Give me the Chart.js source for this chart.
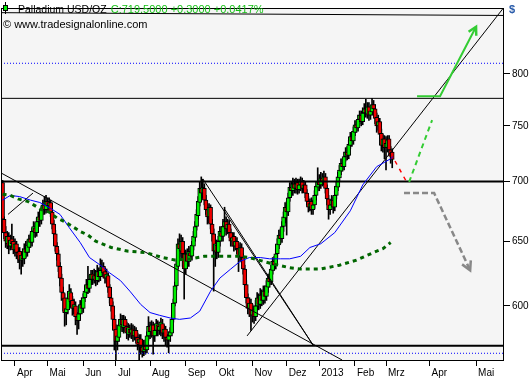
<!DOCTYPE html>
<html>
<head>
<meta charset="utf-8">
<title>Palladium USD/OZ</title>
<script src="https://cdn.jsdelivr.net/npm/chart.js@4.4.0/dist/chart.umd.min.js"></script>
<style>
  html, body { margin: 0; padding: 0; background: #fff; }
  #wrap { width: 532px; height: 380px; }
</style>
</head>
<body>
<div id="wrap"><canvas id="chart" width="532" height="380"></canvas></div>
<script>
// ===== Kursdaten (Tageskerzen, Index 0 = 2. April 2012) =====
const firstBar = -8;
const opens = [
  699, 668, 657, 648, 654, 646, 652, 650,
  643, 648, 641, 642, 635, 639, 636, 644, 641, 645,
  652, 649, 658, 661, 657, 666, 670, 667, 676, 680,
  676, 683, 679, 682, 674, 664, 656, 646, 640, 630,
  621, 610, 606, 595, 597, 605, 610, 604, 598, 600,
  592, 589, 594, 601, 598, 606, 610, 616, 613, 620,
  624, 620, 623, 619, 626, 622, 627, 630, 626, 621,
  623, 614, 606, 600, 590, 583, 574, 577, 585, 590,
  584, 590, 585, 579, 583, 580, 583, 578, 582, 577,
  573, 576, 570, 567, 571, 568, 578, 585, 581, 586,
  578, 582, 586, 582, 582, 587, 580, 583, 577, 575,
  578, 580, 590, 602, 615, 630, 648, 642, 650, 640,
  628, 640, 634, 641, 638, 646, 653, 662, 671, 682,
  694, 690, 694, 684, 676, 670, 678, 664, 656, 642,
  647, 641, 650, 657, 654, 662, 666, 660, 664, 657,
  650, 654, 646, 650, 644, 638, 645, 637, 628, 616,
  606, 598, 602, 593, 597, 592, 600, 606, 601, 608,
  604, 611, 607, 614, 621, 618, 627, 634, 631, 640,
  647, 655, 652, 662, 669, 678, 674, 686, 695, 692,
  698, 694, 699, 693, 697, 700, 694, 697, 690, 683,
  678, 683, 676, 680, 688, 695, 700, 697, 703, 700,
  704, 694, 685, 676, 680, 684, 678, 688, 695, 703,
  709, 716, 713, 722, 726, 723, 732, 740, 736, 744,
  751, 748, 756, 760, 754, 762, 766, 761, 768, 760,
  763, 770, 766, 758, 750, 754, 743, 732, 738, 730,
  730, 738, 728, 726
];
const highs = [
  701, 670, 662, 658, 657, 655, 664, 654,
  652, 650, 645, 645, 641, 644, 648, 650, 651, 655,
  656, 661, 666, 665, 669, 674, 675, 679, 684, 687,
  688, 686, 686, 684, 676, 667, 659, 649, 643, 633,
  624, 614, 609, 603, 610, 616, 613, 607, 605, 603,
  595, 597, 604, 606, 609, 615, 620, 630, 623, 627,
  627, 628, 627, 631, 629, 636, 635, 633, 629, 628,
  625, 616, 609, 603, 593, 586, 582, 590, 594, 593,
  593, 592, 588, 587, 586, 587, 586, 585, 584, 580,
  579, 579, 573, 575, 575, 581, 592, 588, 589, 588,
  586, 590, 589, 588, 591, 590, 586, 585, 579, 581,
  584, 593, 605, 618, 636, 652, 656, 655, 653, 642,
  643, 644, 646, 645, 650, 658, 666, 676, 687, 700,
  704, 702, 698, 688, 680, 681, 680, 668, 660, 652,
  651, 654, 662, 662, 668, 678, 670, 668, 667, 660,
  657, 657, 654, 653, 647, 649, 648, 640, 631, 619,
  609, 606, 605, 601, 600, 604, 610, 609, 613, 612,
  615, 615, 619, 624, 625, 631, 637, 638, 644, 652,
  659, 660, 666, 674, 682, 683, 690, 699, 700, 703,
  702, 703, 702, 702, 704, 703, 701, 700, 693, 687,
  685, 686, 684, 692, 700, 712, 706, 708, 707, 709,
  707, 697, 688, 684, 688, 687, 692, 700, 708, 714,
  720, 720, 726, 730, 731, 737, 744, 744, 749, 755,
  755, 760, 764, 764, 767, 771, 775, 772, 772, 768,
  776, 774, 770, 762, 760, 757, 747, 742, 741, 740,
  741, 741, 731, 729
];
const lows = [
  664, 652, 645, 644, 640, 643, 645, 640,
  638, 636, 633, 628, 624, 630, 632, 637, 638, 641,
  645, 646, 654, 653, 654, 662, 662, 664, 672, 672,
  673, 674, 675, 670, 660, 652, 642, 635, 626, 615,
  604, 596, 585, 586, 594, 601, 599, 593, 594, 586,
  579, 583, 590, 594, 595, 603, 607, 609, 610, 616,
  616, 617, 615, 616, 618, 619, 622, 621, 617, 618,
  610, 602, 596, 585, 568, 561, 568, 574, 582, 581,
  580, 581, 576, 575, 577, 576, 574, 575, 573, 568,
  561, 565, 563, 564, 565, 566, 575, 576, 577, 565,
  574, 578, 578, 579, 578, 576, 574, 571, 570, 566,
  574, 578, 588, 600, 612, 628, 638, 636, 630, 605,
  624, 630, 630, 634, 635, 643, 650, 659, 668, 679,
  685, 686, 680, 672, 664, 665, 660, 650, 611, 630,
  636, 637, 646, 650, 650, 658, 655, 656, 653, 646,
  646, 642, 643, 640, 626, 634, 633, 624, 612, 602,
  594, 592, 582, 588, 587, 589, 597, 597, 598, 600,
  601, 602, 604, 610, 614, 616, 624, 627, 628, 637,
  644, 648, 649, 658, 665, 655, 671, 683, 687, 688,
  690, 690, 689, 690, 692, 690, 691, 686, 680, 674,
  675, 672, 672, 677, 684, 692, 692, 694, 696, 697,
  690, 680, 668, 672, 676, 673, 675, 685, 692, 700,
  706, 709, 710, 718, 719, 720, 729, 731, 733, 741,
  744, 745, 752, 750, 751, 758, 758, 757, 755, 756,
  760, 761, 752, 744, 746, 738, 727, 726, 720, 710,
  726, 723, 716, 712
];
const closes = [
  668, 657, 650, 654, 646, 651, 648, 643,
  648, 641, 638, 635, 639, 636, 644, 641, 647, 652,
  649, 658, 662, 657, 666, 670, 667, 676, 680, 676,
  683, 679, 682, 674, 664, 656, 646, 640, 630, 621,
  610, 605, 595, 598, 606, 611, 603, 598, 601, 592,
  589, 594, 601, 598, 606, 611, 616, 613, 620, 624,
  620, 623, 619, 626, 622, 627, 630, 625, 621, 624,
  614, 606, 600, 590, 582, 574, 578, 586, 590, 586,
  590, 585, 580, 584, 580, 583, 578, 582, 577, 572,
  576, 570, 567, 571, 568, 578, 585, 581, 586, 578,
  582, 587, 582, 585, 588, 580, 583, 577, 575, 578,
  581, 590, 602, 615, 632, 648, 644, 650, 640, 628,
  640, 634, 642, 638, 647, 654, 662, 672, 683, 694,
  690, 695, 684, 676, 670, 678, 664, 656, 642, 648,
  641, 650, 658, 654, 662, 666, 660, 664, 657, 650,
  653, 646, 650, 644, 638, 645, 637, 628, 616, 606,
  598, 602, 593, 597, 592, 600, 606, 601, 608, 604,
  611, 607, 615, 621, 618, 628, 634, 631, 640, 648,
  655, 652, 662, 670, 678, 674, 686, 695, 692, 698,
  694, 698, 693, 697, 700, 694, 697, 690, 683, 678,
  681, 676, 680, 688, 696, 700, 697, 703, 700, 704,
  694, 685, 676, 680, 684, 678, 688, 696, 704, 710,
  716, 713, 722, 726, 723, 733, 740, 736, 745, 751,
  748, 756, 760, 754, 762, 766, 762, 768, 760, 764,
  770, 766, 757, 750, 754, 742, 732, 738, 730, 734,
  737, 728, 722, 719.5
];

// Gleitende Durchschnitte
const ma50Idx = [-8, -3, 3, 10, 16, 23, 29, 35, 42, 48, 55, 61, 68, 74, 81, 87, 93, 100, 106, 113, 119, 126, 132, 139, 145, 151, 158, 164, 171, 177, 184, 190, 197, 206, 216, 224, 233, 242, 243.5];
const ma50 = [684, 688, 687, 684, 682, 677, 672, 661, 649, 637, 631, 625, 619, 611, 601, 595, 593, 591, 590, 591, 596, 611, 621, 628, 634, 637, 637, 636, 636, 636, 638, 645, 648, 657, 675, 697, 713, 720, 722];
const ma200Idx = [-8, -3, 2, 8, 12, 17, 22, 27, 32, 37, 42, 47, 52, 62, 73, 84, 95, 103, 113, 122, 132, 145, 151, 160, 166, 177, 184, 197, 209, 220, 231, 237, 242];
const ma200 = [689, 688, 685, 683, 680, 676, 674, 669, 666, 662, 658, 655, 650, 645, 642, 641, 637, 635, 636, 638, 638, 638, 637, 634, 632, 629, 628, 628, 631, 635, 641, 644, 649];

// Achsen
const monthTicks = [0, 21, 44, 65, 87, 110, 130, 153, 175, 196, 219, 239, 267, 297];
const monthLabels = ['Apr', 'Mai', 'Jun', 'Jul', 'Aug', 'Sep', 'Okt', 'Nov', 'Dez', '2013', 'Feb', 'Mrz', 'Apr', 'Mai'];
const priceTicks = [600, 650, 700, 750, 800];
const xMin = -9, xMax = 315;
const yMin = 561, yMax = 868;

// Zeichnungen: Trendlinien [index, kurs]
const trendTop = [[-9.7, 863], [315.1, 860]];
const trendDown = [[-9.7, 708], [210.7, 561]];
const trendSepA = [[121.1, 702], [192, 571.5]];
const trendSepB = [[135.3, 676], [192, 571.5]];
const trendUp = [[149.5, 578], [315.1, 869]];
const trendSmall = [[-4.5, 672], [11.6, 690]];
const levelLines = [776, 700, 571];
const dottedLevels = [810.5, 565.7];

// Prognose-Pfade
const redPath = [[244.8, 718], [251.9, 700.5]];
const greenDashPath = [[253.9, 699.6], [268.7, 755.4]];
const greenArrowPath = [[259, 778], [273.8, 778], [297, 848]];
const grayArrowPath = [[250.6, 690], [270, 690], [293.2, 627]];

// Legende
const lastClose = 719.5, netChange = 0.3, pctChange = 0.0417;

// ===== Datasets =====
const barIdx = opens.map((_, k) => firstBar + k);
const wickData = barIdx.map((x, k) => ({ x, y: [lows[k], highs[k]] }));
const bodyData = barIdx.map((x, k) => ({ x, y: [opens[k], closes[k]] }));

function lineSet(points, color, width, dash, order) {
  return {
    type: 'line',
    data: points.map(p => ({ x: p[0], y: p[1] })),
    borderColor: color,
    borderWidth: width,
    borderDash: dash || [],
    borderCapStyle: 'butt',
    pointRadius: 0,
    fill: false,
    tension: 0,
    order: order
  };
}
const fullWidth = v => [[xMin, v], [xMax, v]];

const datasets = [
  {
    type: 'bar', data: wickData, backgroundColor: '#000', borderWidth: 0,
    barThickness: 1, grouped: false, order: 30
  },
  {
    type: 'bar', data: bodyData,
    backgroundColor: c => closes[c.dataIndex] >= opens[c.dataIndex] ? '#00f000' : '#f00000',
    borderColor: '#000', borderWidth: 1, borderSkipped: false,
    barThickness: 4, grouped: false, order: 29
  },
  lineSet(ma50Idx.map((x, k) => [x, ma50[k]]), '#0000ff', 1, null, 5),
  lineSet(ma200Idx.map((x, k) => [x, ma200[k]]), '#006600', 3, [4, 4], 4),
  lineSet(fullWidth(levelLines[0]), '#000', 1, null, 6),
  lineSet(fullWidth(levelLines[1]), '#000', 2, null, 6),
  lineSet(fullWidth(levelLines[2]), '#000', 2, null, 6),
  lineSet(fullWidth(dottedLevels[0]), '#0000ff', 1, [1, 2], 6),
  lineSet(fullWidth(dottedLevels[1]), '#0000ff', 1, [1, 2], 6),
  lineSet(trendTop, '#000', 1, null, 6),
  lineSet(trendDown, '#000', 1, null, 6),
  lineSet(trendSepA, '#000', 1, null, 6),
  lineSet(trendSepB, '#000', 1, null, 6),
  lineSet(trendUp, '#000', 1, null, 6),
  lineSet(trendSmall, '#000', 1, null, 6),
  lineSet(redPath, '#ff0000', 1.5, [4, 5], 3),
  lineSet(greenDashPath, '#33cc33', 2, [5, 4], 3),
  lineSet(greenArrowPath, '#33cc33', 2, null, 3),
  lineSet(grayArrowPath, '#888888', 2.5, [6, 3], 3)
];

// ===== Rahmen, Pfeilspitzen, Legende =====
function arrowHead(ctx, chart, path, color, size) {
  const sx = chart.scales.x, sy = chart.scales.y;
  const a = path[path.length - 2], b = path[path.length - 1];
  const x1 = sx.getPixelForValue(a[0]), y1 = sy.getPixelForValue(a[1]);
  const x2 = sx.getPixelForValue(b[0]), y2 = sy.getPixelForValue(b[1]);
  const ang = Math.atan2(y2 - y1, x2 - x1);
  ctx.save();
  ctx.strokeStyle = color;
  ctx.lineWidth = 2.5;
  ctx.beginPath();
  ctx.moveTo(x2 - size * Math.cos(ang - 0.5), y2 - size * Math.sin(ang - 0.5));
  ctx.lineTo(x2, y2);
  ctx.lineTo(x2 - size * Math.cos(ang + 0.5), y2 - size * Math.sin(ang + 0.5));
  ctx.stroke();
  ctx.restore();
}

const decor = {
  id: 'decor',
  beforeDraw(chart) {
    const { ctx, chartArea: a } = chart;
    ctx.save();
    ctx.fillStyle = '#fff';
    ctx.fillRect(0, 0, chart.width, chart.height);
    ctx.fillStyle = '#f5f5f5';
    ctx.fillRect(a.left, a.top, a.right - a.left, a.bottom - a.top);
    ctx.restore();
  },
  afterDatasetsDraw(chart) {
    const ctx = chart.ctx;
    arrowHead(ctx, chart, greenArrowPath, '#33cc33', 9);
    arrowHead(ctx, chart, grayArrowPath, '#888888', 10);
  },
  afterDraw(chart) {
    const { ctx, chartArea: a } = chart;
    ctx.save();
    ctx.strokeStyle = '#000';
    ctx.lineWidth = 1;
    ctx.strokeRect(a.left + 0.5, a.top + 0.5, a.right - a.left - 1, a.bottom - a.top);

    // Kerzen-Symbol
    ctx.beginPath();
    ctx.moveTo(5.5, 2); ctx.lineTo(5.5, 14);
    ctx.stroke();
    ctx.fillStyle = '#00ee00';
    ctx.fillRect(3, 5, 5, 6);
    ctx.strokeRect(3.5, 5.5, 4, 5);

    ctx.textBaseline = 'alphabetic';
    ctx.fillStyle = '#000';
    ctx.font = '10.5px "Liberation Sans"';
    const name = 'Palladium USD/OZ';
    ctx.fillText(name, 18, 12.5);
    const w = ctx.measureText(name).width;
    ctx.fillStyle = '#18c018';
    ctx.font = '11px "Liberation Sans"';
    ctx.fillText('C:' + lastClose.toFixed(4) + ' +' + netChange.toFixed(4) + ' +' + pctChange.toFixed(4) + '%', 18 + w + 4, 12.5);
    ctx.fillStyle = '#000';
    ctx.fillText('\u00a9 www.tradesignalonline.com', 3, 28);

    ctx.fillStyle = '#2a5caa';
    ctx.font = 'bold 11px "Liberation Sans"';
    ctx.fillText('$', a.right + 5, 13);
    ctx.restore();
  }
};

Chart.defaults.font.family = '"Liberation Sans", Arial, sans-serif';
Chart.defaults.font.size = 10;
Chart.defaults.color = '#000';

new Chart(document.getElementById('chart'), {
  type: 'bar',
  data: { datasets },
  options: {
    responsive: false,
    animation: false,
    devicePixelRatio: 1,
    layout: { padding: { left: 1, top: 2, right: 0, bottom: 0 }, autoPadding: false },
    plugins: { legend: { display: false }, tooltip: { enabled: false } },
    scales: {
      x: {
        type: 'linear', min: xMin, max: xMax, bounds: 'data',
        offset: false,
        grid: { offset: false, drawOnChartArea: false, drawTicks: true, tickLength: 6, color: '#000' },
        border: { display: false },
        afterBuildTicks: s => { s.ticks = monthTicks.map(v => ({ value: v })); },
        afterFit: s => { s.height = 20; },
        ticks: {
          autoSkip: false, maxRotation: 0, align: 'start', padding: 1,
          font: { size: 10 },
          callback: (v, i) => '\u2009' + monthLabels[i]
        }
      },
      y: {
        type: 'logarithmic', position: 'right', min: yMin, max: yMax, bounds: 'data',
        grid: { drawOnChartArea: false, drawTicks: true, tickLength: 6, color: '#000' },
        border: { display: false },
        afterBuildTicks: s => { s.ticks = priceTicks.map(v => ({ value: v })); },
        afterFit: s => { s.width = 28; },
        ticks: { padding: 2, font: { size: 10 }, callback: v => String(v) }
      }
    }
  },
  plugins: [decor]
});
</script>
</body>
</html>
